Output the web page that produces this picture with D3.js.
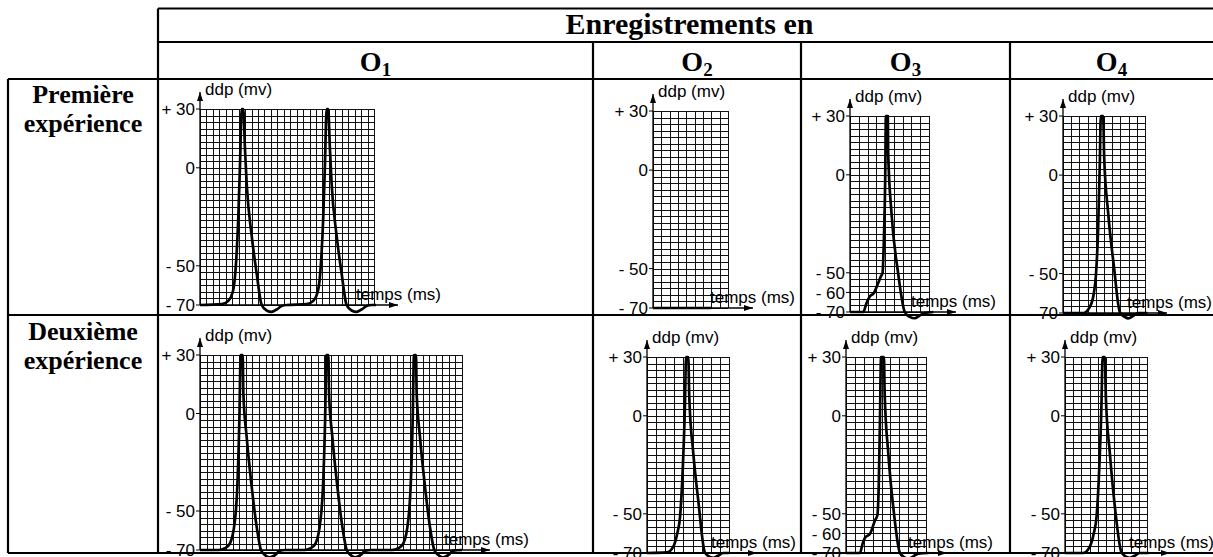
<!DOCTYPE html>
<html>
<head>
<meta charset="utf-8">
<script src="https://cdn.jsdelivr.net/npm/d3@7"></script>
<style>
  body { margin: 0; background: #fff; }
  svg { display: block; }
</style>
</head>
<body>
<div id="chart"></div>
<script>
// ---- texts ----
const title = "Enregistrements en";
const electrodes = ["1", "2", "3", "4"];
const experiments = [["Première", "expérience"], ["Deuxième", "expérience"]];
const yLabel = "ddp (mv)";
const xLabel = "temps (ms)";
const tickLabels = { "30": "+ 30", "0": "0", "-50": "- 50", "-60": "- 60", "-70": "- 70" };
const ticksDefault = [30, 0, -50, -70];
const ticksO3 = [30, 0, -50, -60, -70];

// ---- traces: [time in grid columns, potential in mV] ----
const o1Exp1 = [
  [0, -70], [3.36, -69.6], [4.39, -67.9], [5.07, -63.5], [5.43, -55.5], [5.69, -43.2], [5.94, -25.6],
  [6.2, 0.9], [6.47, 30], [6.71, 30], [6.98, 9.7], [7.24, -7.9], [8.01, -34.4], [8.79, -53.8],
  [9.57, -70], [10.34, -72.8], [11.12, -73.5], [11.89, -72.3], [12.67, -70.5], [13.44, -70],
  [16.54, -69.6], [17.57, -67.9], [18.25, -63.5], [18.61, -55.5], [18.87, -43.2], [19.12, -25.6],
  [19.38, 0.9], [19.65, 30], [19.89, 30], [20.16, 9.7], [20.42, -7.9], [21.19, -34.4], [21.97, -53.8],
  [22.75, -70], [23.52, -72.8], [24.3, -73.5], [25.07, -72.3], [25.85, -70.5], [26.6, -70], [27.3, -70]
];
const o2Exp1 = [[0, -70], [7, -70]];
const o3Exp1 = [
  [0, -70], [1.51, -70], [1.89, -65.4], [2.27, -62], [2.72, -60.3], [3.21, -55.2], [3.52, -51.8],
  [3.71, -50.1], [3.86, -33.1], [4.01, -2.6], [4.09, 30], [4.31, 30], [4.35, 11], [4.73, -19.6],
  [5.48, -50.1], [6.24, -70], [6.81, -72.5], [7.38, -73.2], [7.94, -71.8], [8.51, -70.5], [9.5, -70]
];
const o4Exp1 = [
  [0, -70], [2.45, -70], [3.26, -67], [3.75, -60.2], [4.0, -51.7], [4.28, -27.8], [4.49, 6],
  [4.61, 30], [4.9, 30], [5.02, 9.4], [5.51, -19.3], [6.21, -46.4], [6.94, -69.7], [7.55, -72],
  [7.96, -72.7], [8.57, -71.4], [9.18, -70], [10.3, -70]
];
const o1Exp2 = [
  [0, -70], [2.8, -70], [3.82, -69.1], [4.58, -66.6], [5.34, -54.6], [5.7, -37.4], [6.01, -3.3],
  [6.21, 30], [6.52, 30], [6.62, 10.3], [7.12, -11.9], [7.89, -37.5], [8.65, -58], [9.31, -70],
  [9.92, -72.6], [10.58, -73.8], [11.45, -72.6], [12.21, -70.3], [13, -70],
  [15.9, -70], [16.9, -69.1], [17.65, -66.6], [18.4, -54.6], [18.78, -37.4], [19.1, -3.3],
  [19.3, 30], [19.6, 30], [19.7, 10.3], [20.2, -11.9], [20.97, -37.5], [21.73, -58], [22.4, -70],
  [23, -72.6], [23.66, -73.8], [24.5, -72.6], [25.3, -70.3], [26.1, -70],
  [29.3, -70], [30.3, -69.1], [31.05, -66.6], [31.8, -54.6], [32.16, -37.4], [32.47, -3.3],
  [32.67, 30], [32.98, 30], [33.08, 10.3], [33.58, -11.9], [34.35, -37.5], [35.1, -58], [35.77, -70],
  [36.4, -72.6], [37.05, -73.8], [37.9, -72.6], [38.67, -70.3], [40, -70]
];
const o2Exp2 = [
  [0, -70], [2.18, -69.7], [2.9, -66.6], [3.33, -59.8], [3.63, -51.4], [3.92, -27.6], [4.17, 6.3],
  [4.28, 30], [4.53, 30], [4.64, 9.7], [5.08, -19.1], [5.62, -42.9], [6.35, -69.7], [6.9, -72],
  [7.26, -72.5], [7.8, -71.4], [8.35, -70], [9, -70]
];
const o3Exp2 = [
  [0, -70], [1.57, -70], [1.87, -65.2], [2.14, -62.2], [2.7, -60.2], [3.26, -53.4], [3.52, -50.9],
  [3.68, -36.4], [3.82, -2.4], [3.94, 30], [4.27, 30], [4.35, 11.3], [4.76, -19.3], [5.4, -49.9],
  [6.07, -70], [6.64, -72.4], [7.01, -73], [7.57, -71.7], [8.14, -70.3], [9.3, -70]
];
const o4Exp2 = [
  [0, -70], [2.22, -70], [3.04, -66.6], [3.52, -59.8], [3.85, -51.4], [4.17, -27.6], [4.45, 6.3],
  [4.58, 30], [4.86, 30], [4.98, 9.7], [5.47, -19.1], [6.08, -46.3], [6.89, -69.7], [7.5, -72],
  [7.9, -72.5], [8.5, -71.4], [9.11, -70], [10.2, -70]
];

// ---- layout (pixel boxes of each recording panel) ----
const W = 1213, H = 557;
const gridRows = 30;
const panels = [
  { data: o1Exp1, x0: 200, x1: 374, y0: 109, y1: 305, cols: 27, xEnd: 398, ticks: ticksDefault },
  { data: o2Exp1, x0: 653, x1: 728, y0: 111, y1: 308, cols: 9, xEnd: 753, ticks: ticksDefault },
  { data: o3Exp1, x0: 850, x1: 929, y0: 116, y1: 312, cols: 9, xEnd: 956, ticks: ticksO3 },
  { data: o4Exp1, x0: 1063, x1: 1145, y0: 116, y1: 313, cols: 10, xEnd: 1167, ticks: ticksDefault },
  { data: o1Exp2, x0: 200, x1: 462, y0: 355, y1: 550, cols: 40, xEnd: 490, ticks: ticksDefault },
  { data: o2Exp2, x0: 647, x1: 729, y0: 357, y1: 553, cols: 9, xEnd: 757, ticks: ticksDefault },
  { data: o3Exp2, x0: 846, x1: 926, y0: 357, y1: 553, cols: 9, xEnd: 947, ticks: ticksO3 },
  { data: o4Exp2, x0: 1065, x1: 1147, y0: 357, y1: 553, cols: 10, xEnd: 1170, ticks: ticksDefault }
];

const serif = "'Liberation Serif', 'Times New Roman', serif";
const sans = "'Liberation Sans', Arial, sans-serif";

const svg = d3.select("#chart").append("svg")
  .attr("width", W).attr("height", H)
  .style("background", "#fff");

// arrow head marker
svg.append("defs").append("marker")
  .attr("id", "arrow")
  .attr("markerUnits", "userSpaceOnUse")
  .attr("markerWidth", 10).attr("markerHeight", 8)
  .attr("refX", 9).attr("refY", 3)
  .attr("orient", "auto")
  .append("path")
  .attr("d", "M0,0 L9,3 L0,6 Z")
  .attr("fill", "#000");

panels.forEach((p) => {
  const g = svg.append("g");

  const x = d3.scaleLinear().domain([0, p.cols]).range([p.x0, p.x1]);
  const y = d3.scaleLinear().domain([-70, 30]).range([p.y1, p.y0]);
  const rowY = d3.scaleLinear().domain([0, gridRows]).range([p.y0, p.y1]);

  // grid
  g.append("g").selectAll("line.h")
    .data(d3.range(gridRows + 1))
    .join("line")
    .attr("x1", p.x0).attr("x2", p.x1)
    .attr("y1", (i) => Math.round(rowY(i)) + 0.5)
    .attr("y2", (i) => Math.round(rowY(i)) + 0.5)
    .attr("stroke", "#111").attr("stroke-width", 1);
  g.append("g").selectAll("line.v")
    .data(d3.range(p.cols + 1))
    .join("line")
    .attr("x1", (i) => Math.round(x(i)) + 0.5)
    .attr("x2", (i) => Math.round(x(i)) + 0.5)
    .attr("y1", p.y0).attr("y2", p.y1)
    .attr("stroke", "#111").attr("stroke-width", 1);

  // y axis with arrow
  g.append("line")
    .attr("x1", p.x0).attr("x2", p.x0)
    .attr("y1", y(-70)).attr("y2", p.y0 - 17)
    .attr("stroke", "#000").attr("stroke-width", 1.3)
    .attr("marker-end", "url(#arrow)");
  // x axis with arrow
  g.append("line")
    .attr("x1", p.x0).attr("x2", p.xEnd)
    .attr("y1", y(-70)).attr("y2", y(-70))
    .attr("stroke", "#000").attr("stroke-width", 1.3)
    .attr("marker-end", "url(#arrow)");

  // ticks + labels
  p.ticks.forEach((t) => {
    g.append("line")
      .attr("x1", p.x0 - 4).attr("x2", p.x0)
      .attr("y1", y(t)).attr("y2", y(t))
      .attr("stroke", "#000").attr("stroke-width", 1);
    g.append("text")
      .attr("x", p.x0 - 5).attr("y", y(t)).attr("dy", "0.36em")
      .attr("text-anchor", "end")
      .attr("font-family", sans).attr("font-size", 17)
      .text(tickLabels[String(t)]);
  });

  g.append("text")
    .attr("x", p.x0 + 5).attr("y", p.y0 - 14)
    .attr("font-family", sans).attr("font-size", 17)
    .text(yLabel);
  g.append("text")
    .attr("x", p.x1 - 18).attr("y", y(-70) - 5)
    .attr("font-family", sans).attr("font-size", 17)
    .text(xLabel);

  // recording trace
  const line = d3.line()
    .x((d) => x(d[0]))
    .y((d) => y(d[1]))
    .curve(d3.curveMonotoneX);
  g.append("path")
    .datum(p.data)
    .attr("d", line)
    .attr("fill", "none")
    .attr("stroke", "#000")
    .attr("stroke-width", 2.7)
    .attr("stroke-linejoin", "round");
});

// ---- table ----
const colEdges = [158, 593, 801, 1010, W];
const table = svg.append("g").attr("stroke", "#000").attr("stroke-width", 2.2);
[[158, W, 8.5], [158, W, 42], [8, W, 79], [8, W, 315], [8, W, 553]].forEach(([a, b, yy]) => {
  table.append("line").attr("x1", a).attr("x2", b).attr("y1", yy).attr("y2", yy);
});
[[8, 79, 553], [158, 8.5, 553], [593, 42, 553], [801, 42, 553], [1010, 42, 553]].forEach(([xx, a, b]) => {
  table.append("line").attr("x1", xx).attr("x2", xx).attr("y1", a).attr("y2", b);
});

svg.append("text")
  .attr("x", (158 + W) / 2 + 4).attr("y", 34)
  .attr("text-anchor", "middle")
  .attr("font-family", serif).attr("font-weight", "bold").attr("font-size", 30)
  .text(title);

electrodes.forEach((e, i) => {
  const t = svg.append("text")
    .attr("x", (colEdges[i] + colEdges[i + 1]) / 2).attr("y", 71)
    .attr("text-anchor", "middle")
    .attr("font-family", serif).attr("font-weight", "bold").attr("font-size", 28);
  t.append("tspan").text("O");
  t.append("tspan").attr("font-size", 19).attr("dy", 5).text(e);
});

const rowBase = [103, 340];
experiments.forEach((lines, r) => {
  lines.forEach((s, k) => {
    svg.append("text")
      .attr("x", 83).attr("y", rowBase[r] + k * 29)
      .attr("text-anchor", "middle")
      .attr("font-family", serif).attr("font-weight", "bold").attr("font-size", 26)
      .text(s);
  });
});
</script>
</body>
</html>
